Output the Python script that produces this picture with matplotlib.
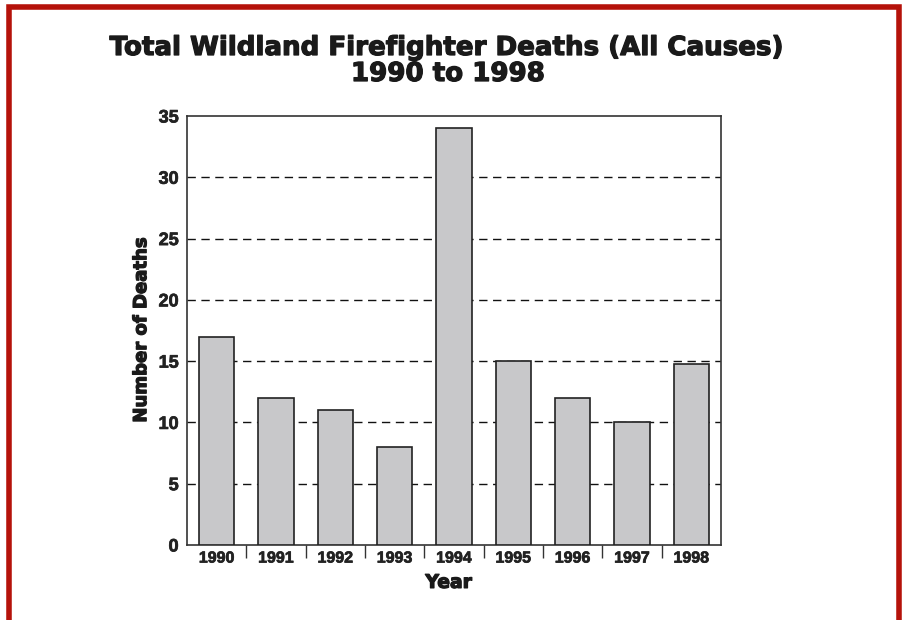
import matplotlib.pyplot as plt
from matplotlib import ticker
from matplotlib import patheffects
from matplotlib.patches import Rectangle
import numpy as np

years = ['1990', '1991', '1992', '1993', '1994', '1995', '1996', '1997', '1998']
deaths = [17, 12, 11, 8, 34, 15, 12, 10, 14.75]
y_ticks = [0, 5, 10, 15, 20, 25, 30, 35]

plt.rcParams['font.family'] = ['Liberation Sans', 'DejaVu Sans']
heavy = ['DejaVu Sans']
# thicken the heavy text a little, the original uses a black-weight face
thick = [patheffects.withStroke(linewidth=0.9, foreground='#1a1a1a')]
thin = [patheffects.withStroke(linewidth=0.5, foreground='#222222')]

fig = plt.figure(figsize=(9.03, 6.2), dpi=100)

# red frame around the chart (open at the bottom edge)
fig.patches.append(Rectangle((8.5 / 903, -0.05), (899 - 8.5) / 903, 1 - 6.5 / 620 + 0.05,
                             transform=fig.transFigure, fill=False,
                             edgecolor='#b5120a', linewidth=4))

ax = fig.add_axes([187 / 903, 1 - 545 / 620, (721 - 187) / 903, (545 - 116) / 620])

x = np.arange(len(years))
ax.bar(x, deaths, width=0.59, color='#c8c8ca', edgecolor='#222222', linewidth=1.2, zorder=3)

ax.set_xlim(-0.5, len(years) - 0.5)
ax.set_ylim(0, 35)
ax.set_yticks(y_ticks)
ax.set_yticklabels([str(t) for t in y_ticks], fontsize=13, fontweight='bold', color='#222222',
                   path_effects=thin)
ax.set_xticks(x)
ax.set_xticklabels(years, fontsize=11.5, fontweight='bold', color='#222222', path_effects=thin)
ax.xaxis.set_minor_locator(ticker.FixedLocator(np.arange(0.5, len(years) - 1, 1.0)))
ax.tick_params(axis='x', which='major', length=0, pad=4)
ax.tick_params(axis='x', which='minor', length=9, width=1, color='#333333', direction='out')
ax.tick_params(axis='y', length=0, pad=6)

for t in y_ticks[1:-1]:
    ax.axhline(t, color='#111111', linestyle=(0, (6, 4)), linewidth=1, zorder=1)

for s in ax.spines.values():
    s.set_color('#333333')
    s.set_linewidth(1.2)

ax.set_ylabel('Number of Deaths', fontsize=13, fontweight='bold', family=heavy, labelpad=6,
              color='#1a1a1a', path_effects=thick)
ax.set_xlabel('Year', fontsize=13.5, fontweight='bold', family=heavy, labelpad=4,
              color='#1a1a1a', path_effects=thick)
ax.xaxis.set_label_coords(0.49, -0.065)

fig.text(448 / 903, 1 - 48 / 620, 'Total Wildland Firefighter Deaths (All Causes)',
         ha='center', va='center', fontsize=18.8, fontweight='bold', family=heavy,
         color='#1a1a1a', path_effects=thick)
fig.text(448 / 903, 1 - 74 / 620, '1990 to 1998',
         ha='center', va='center', fontsize=18.8, fontweight='bold', family=heavy,
         color='#1a1a1a', path_effects=thick)

fig.savefig('out.png', dpi=100)
